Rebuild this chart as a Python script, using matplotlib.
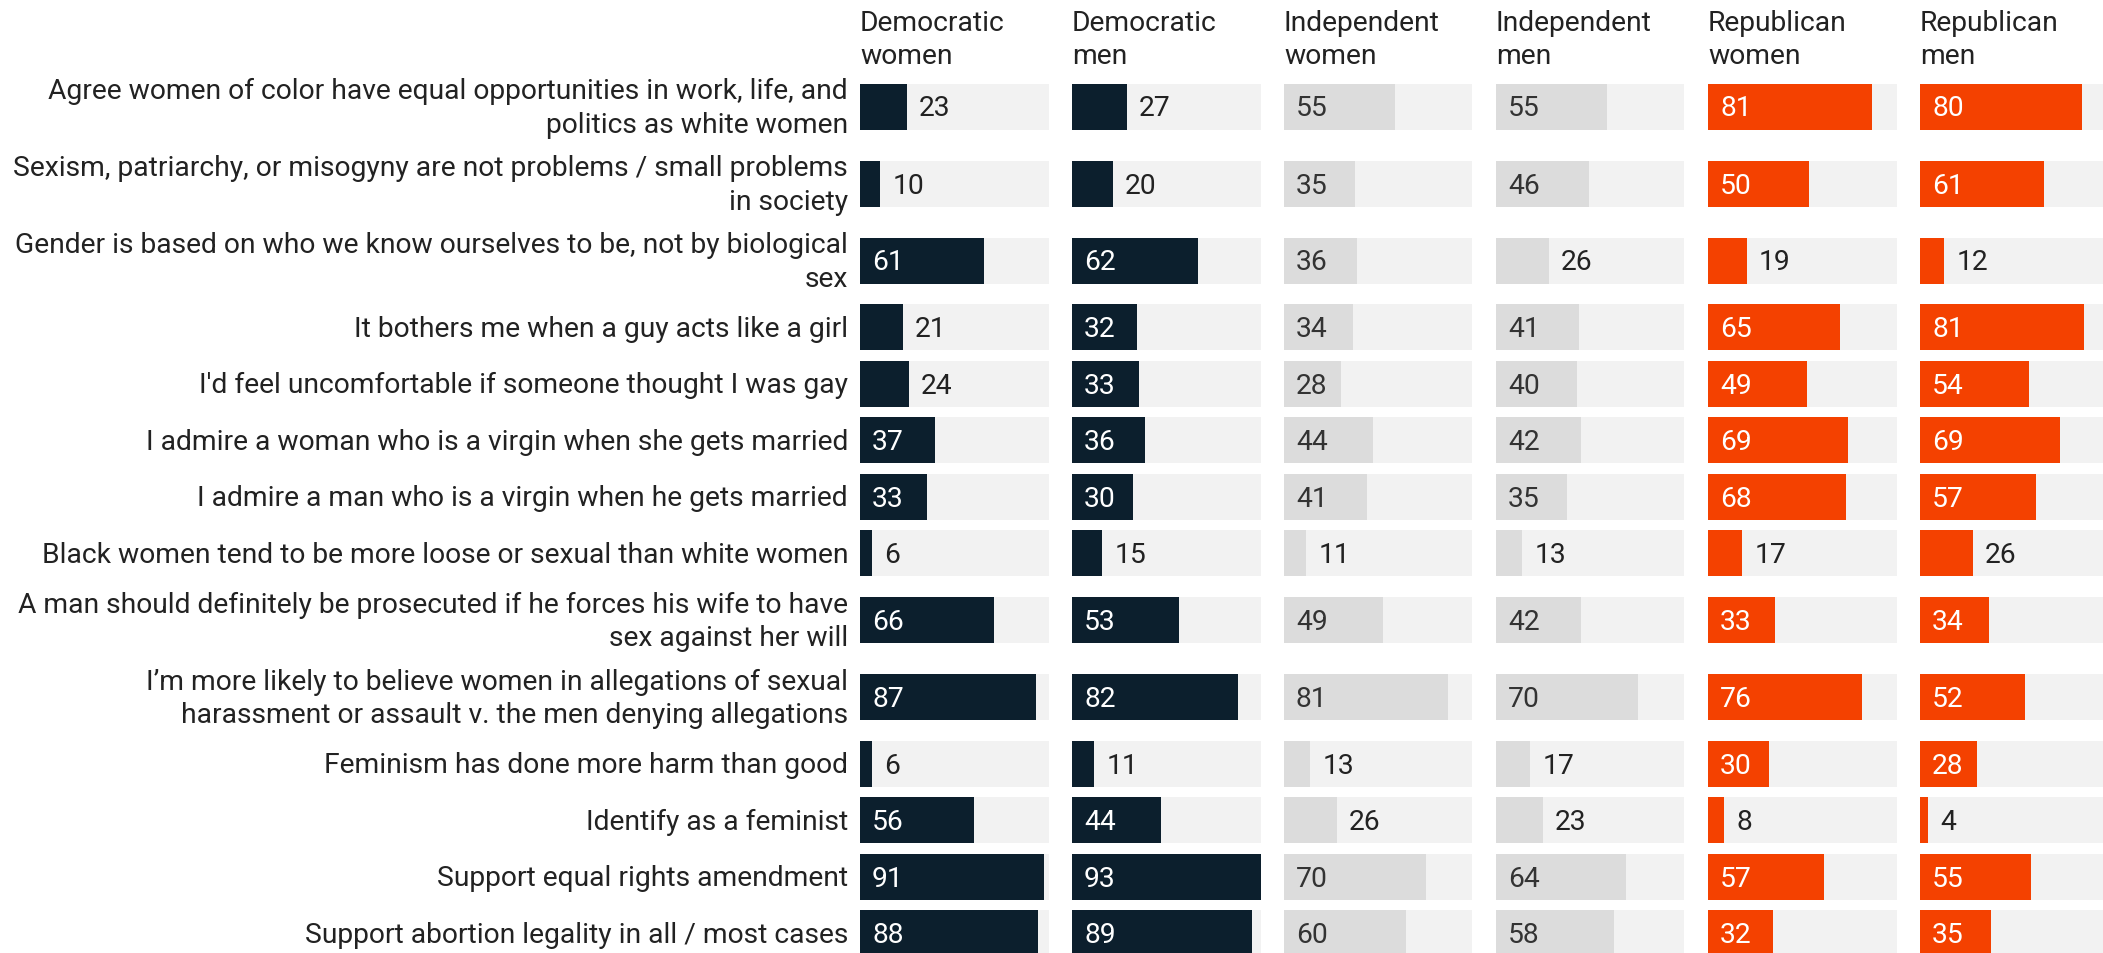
import matplotlib.pyplot as plt

plt.rcParams['font.family'] = ['Roboto', 'DejaVu Sans']

statements = [
    "Agree women of color have equal opportunities in work, life, and\npolitics as white women",
    "Sexism, patriarchy, or misogyny are not problems / small problems\nin society",
    "Gender is based on who we know ourselves to be, not by biological\nsex",
    "It bothers me when a guy acts like a girl",
    "I'd feel uncomfortable if someone thought I was gay",
    "I admire a woman who is a virgin when she gets married",
    "I admire a man who is a virgin when he gets married",
    "Black women tend to be more loose or sexual than white women",
    "A man should definitely be prosecuted if he forces his wife to have\nsex against her will",
    "I\u2019m more likely to believe women in allegations of sexual\nharassment or assault v. the men denying allegations",
    "Feminism has done more harm than good",
    "Identify as a feminist",
    "Support equal rights amendment",
    "Support abortion legality in all / most cases",
]

groups = ["Democratic\nwomen", "Democratic\nmen", "Independent\nwomen",
          "Independent\nmen", "Republican\nwomen", "Republican\nmen"]

dem_women = [23, 10, 61, 21, 24, 37, 33, 6, 66, 87, 6, 56, 91, 88]
dem_men = [27, 20, 62, 32, 33, 36, 30, 15, 53, 82, 11, 44, 93, 89]
ind_women = [55, 35, 36, 34, 28, 44, 41, 11, 49, 81, 13, 26, 70, 60]
ind_men = [55, 46, 26, 41, 40, 42, 35, 13, 42, 70, 17, 23, 64, 58]
rep_women = [81, 50, 19, 65, 49, 69, 68, 17, 33, 76, 30, 8, 57, 32]
rep_men = [80, 61, 12, 81, 54, 69, 57, 26, 34, 52, 28, 4, 55, 35]

series = [dem_women, dem_men, ind_women, ind_men, rep_women, rep_men]

NAVY = "#0c1f2d"
ORANGE = "#f44100"
GRAY = "#dcdcdc"
BG = "#f2f2f2"
TEXT = "#222222"

bar_colors = [NAVY, NAVY, GRAY, GRAY, ORANGE, ORANGE]
inner_text = ["white", "white", "#333333", "#333333", "white", "white"]

W, H = 2103, 954
fig = plt.figure(figsize=(W / 100, H / 100), dpi=100)

# row layout (pixel units from top): two-line rows are taller
centers = []
top = 69
for s in statements:
    h = 77 if "\n" in s else 56.5
    centers.append(top + h / 2)
    top += h

xmax = max(max(s) for s in series)
panel_w = 188.5
panel_x0 = 860
pitch = 212
pad_px = 12
pad = pad_px / panel_w * xmax
fs = 20.3

for k, (name, vals) in enumerate(zip(groups, series)):
    x0 = panel_x0 + k * pitch
    ax = fig.add_axes([x0 / W, 0, panel_w / W, 1])
    ax.set_xlim(0, xmax)
    ax.set_ylim(H, 0)
    ax.axis("off")
    ax.barh(centers, [xmax] * len(vals), height=46, color=BG, linewidth=0)
    ax.barh(centers, vals, height=46, color=bar_colors[k], linewidth=0)
    for y, v in zip(centers, vals):
        if v >= 28:
            ax.text(pad, y + 1.5, str(v), ha="left", va="center", fontsize=fs,
                    color=inner_text[k])
        else:
            ax.text(v + pad, y + 1.5, str(v), ha="left", va="center",
                    fontsize=fs, color=TEXT)
    ax.text(0, 10, name, ha="left", va="top", fontsize=fs, color=TEXT,
            linespacing=1.27)
    if k == 0:
        for y, s in zip(centers, statements):
            ax.text(-pad, y + 1, s, ha="right", va="center", fontsize=fs,
                    color=TEXT, linespacing=1.29)

fig.savefig("out.png", dpi=100)
